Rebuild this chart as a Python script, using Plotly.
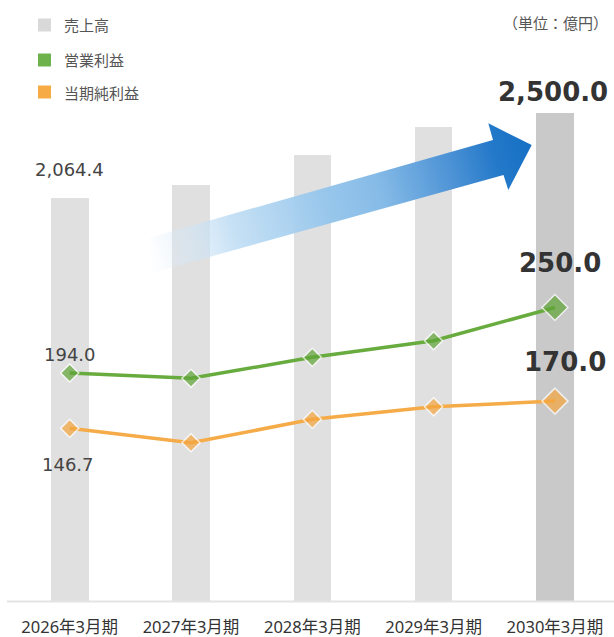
import base64
import plotly.graph_objects as go

# ---- data ----
years = ["2026年3月期", "2027年3月期", "2028年3月期", "2029年3月期", "2030年3月期"]
sales = [2064.4, 2132, 2285, 2428, 2500.0]
op_profit = [194.0, 189.5, 207.4, 221.6, 250.0]
net_profit = [146.7, 134.4, 154.4, 165.2, 170.0]
legend_names = ["売上高", "営業利益", "当期純利益"]
unit_label = "（単位：億円）"

# ---- layout constants ----
W, H = 614, 637
PLOT_BOTTOM = 602  # px, plot area from 0 to 602
def px2paper(x, y):
    return x / W, 1 - y / PLOT_BOTTOM

GRAY = "#e0e0e0"
GRAY_LAST = "#c9c9c9"
GREEN = "#5fa536"
GREEN_LINE = "#68ab3e"
ORANGE = "#f4a63d"
ORANGE_LINE = "#f5ab48"
NUM_FONT = "DejaVu Sans"
CJK_FONT = "Noto Sans CJK JP"
TICK_FONT = "Noto Sans, Noto Sans CJK JP"

fig = go.Figure()

fig.add_trace(go.Bar(
    x=years, y=sales, width=0.31,
    marker=dict(color=[GRAY] * 4 + [GRAY_LAST], line=dict(width=0)),
    yaxis="y", showlegend=False, hoverinfo="skip",
))

fig.add_trace(go.Scatter(
    x=years, y=op_profit, yaxis="y2", mode="lines+markers",
    line=dict(color=GREEN_LINE, width=3.5),
    marker=dict(symbol="diamond", size=[14, 14, 14, 14, 20], color=GREEN,
                line=dict(color="white", width=1.5)),
    showlegend=False, hoverinfo="skip",
))

fig.add_trace(go.Scatter(
    x=years, y=net_profit, yaxis="y2", mode="lines+markers",
    line=dict(color=ORANGE_LINE, width=3.5),
    marker=dict(symbol="diamond", size=[14, 14, 14, 14, 20], color=ORANGE,
                line=dict(color="white", width=1.5)),
    showlegend=False, hoverinfo="skip",
))

annotations = []
# value labels
annotations.append(dict(x=years[0], y=sales[0], yref="y", text=f"{sales[0]:,.1f}",
                        showarrow=False, yshift=28, xshift=0,
                        font=dict(family=NUM_FONT, size=18, color="#444")))
annotations.append(dict(x=years[4], y=sales[4], yref="y", text=f"{sales[4]:,.1f}",
                        showarrow=False, yshift=21, xshift=-2,
                        font=dict(family=NUM_FONT, size=26, color="#333", weight="bold")))
annotations.append(dict(x=years[0], y=op_profit[0], yref="y2", text=f"{op_profit[0]:.1f}",
                        showarrow=False, yshift=19, xshift=0,
                        font=dict(family=NUM_FONT, size=18, color="#444")))
annotations.append(dict(x=years[0], y=net_profit[0], yref="y2", text=f"{net_profit[0]:.1f}",
                        showarrow=False, yshift=-36, xshift=-2,
                        font=dict(family=NUM_FONT, size=18, color="#444")))
annotations.append(dict(x=years[4], y=op_profit[4], yref="y2", text=f"{op_profit[4]:.1f}",
                        showarrow=False, yshift=45, xshift=5,
                        font=dict(family=NUM_FONT, size=26, color="#333", weight="bold")))
annotations.append(dict(x=years[4], y=net_profit[4], yref="y2", text=f"{net_profit[4]:.1f}",
                        showarrow=False, yshift=39, xshift=10,
                        font=dict(family=NUM_FONT, size=26, color="#333", weight="bold")))

shapes = []
# custom legend
leg_colors = ["#d9d9d9", "#6db24a", "#f7ab45"]
leg_y = [25, 60, 92]
for name, c, ly in zip(legend_names, leg_colors, leg_y):
    x0, y0 = px2paper(38, ly - 6.5)
    x1, y1 = px2paper(51, ly + 6.5)
    shapes.append(dict(type="rect", xref="paper", yref="paper", x0=x0, x1=x1, y0=y1, y1=y0,
                       fillcolor=c, line=dict(width=0)))
    tx, ty = px2paper(62, ly)
    annotations.append(dict(xref="paper", yref="paper", x=tx, y=ty, text=name, showarrow=False,
                            xanchor="left", yanchor="middle",
                            font=dict(family=CJK_FONT, size=15, color="#555")))

ux, uy = px2paper(610, 22)
annotations.append(dict(xref="paper", yref="paper", x=ux, y=uy, text=unit_label, showarrow=False,
                        xanchor="right", yanchor="middle",
                        font=dict(family=CJK_FONT, size=15, color="#555")))

# baseline
bx0, by = px2paper(7, 601.5)
shapes.append(dict(type="line", xref="paper", yref="paper", x0=bx0, x1=1, y0=by, y1=by,
                   line=dict(color="#e4e4e4", width=2)))

# gradient arrow (decoration) as an inline SVG image covering the plot area
arrow_svg = f"""<svg xmlns="http://www.w3.org/2000/svg" width="{W}" height="{PLOT_BOTTOM}" viewBox="0 0 {W} {PLOT_BOTTOM}">
<defs>
<linearGradient id="g" gradientUnits="userSpaceOnUse" x1="150" y1="256" x2="532" y2="146">
<stop offset="0" stop-color="#e6f1fb" stop-opacity="0.05"/>
<stop offset="0.08" stop-color="#d6e9f8" stop-opacity="0.45"/>
<stop offset="0.22" stop-color="#bcdbf3" stop-opacity="0.85"/>
<stop offset="0.45" stop-color="#9ac8ec" stop-opacity="1"/>
<stop offset="0.6" stop-color="#86bbe7" stop-opacity="1"/>
<stop offset="0.78" stop-color="#4f94d6" stop-opacity="1"/>
<stop offset="0.9" stop-color="#2479c9" stop-opacity="1"/>
<stop offset="1" stop-color="#1670c4" stop-opacity="1"/>
</linearGradient>
</defs>
<path d="M 150,237.5 L 493,140 L 488.3,123.3 L 531.7,145 L 508.3,190 L 503.5,175 L 150,273.5 Z" fill="url(#g)"/>
</svg>"""
arrow_src = "data:image/svg+xml;base64," + base64.b64encode(arrow_svg.encode()).decode()

fig.add_layout_image(dict(
    source=arrow_src, xref="paper", yref="paper", x=0, y=1, sizex=1, sizey=1,
    xanchor="left", yanchor="top", sizing="stretch", layer="above",
))

fig.update_layout(
    width=W, height=H,
    margin=dict(l=0, r=0, t=0, b=H - PLOT_BOTTOM),
    paper_bgcolor="white", plot_bgcolor="white",
    bargap=0,
    xaxis=dict(type="category", range=[-0.5746, 4.487], showgrid=False, zeroline=False,
               showline=False, ticks="", tickfont=dict(family=TICK_FONT, size=16.5, color="#333"),
               ticklabelstandoff=13),
    yaxis=dict(range=[0, PLOT_BOTTOM / 0.1958], visible=False),
    yaxis2=dict(range=[-2 / 1.17, 600 / 1.17], overlaying="y", visible=False),
    annotations=annotations,
    shapes=shapes,
    showlegend=False,
)

fig.write_html("out.html")
